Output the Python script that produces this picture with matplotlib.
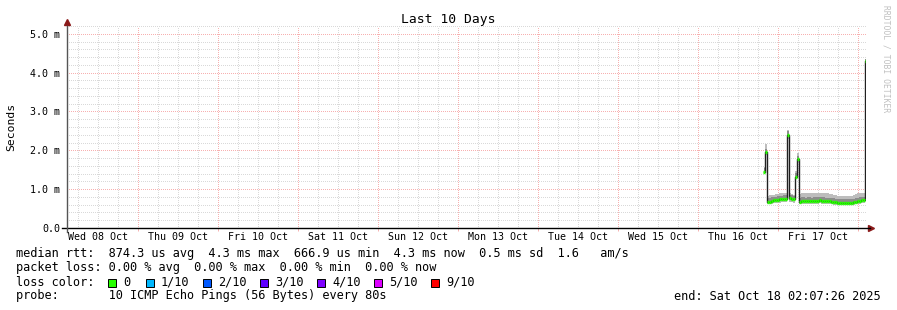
import numpy as np
import matplotlib
matplotlib.use("Agg")
import matplotlib.pyplot as plt
from matplotlib.lines import Line2D
from matplotlib.patches import Rectangle

# time axis: hours since Wed 08 Oct 00:00
x_start, x_end = 2.7, 242.4
day_labels = ["Wed 08 Oct", "Thu 09 Oct", "Fri 10 Oct", "Sat 11 Oct", "Sun 12 Oct",
              "Mon 13 Oct", "Tue 14 Oct", "Wed 15 Oct", "Thu 16 Oct", "Fri 17 Oct"]
y_ticks = [0, 1, 2, 3, 4, 5]
y_labels = ["0.0", "1.0 m", "2.0 m", "3.0 m", "4.0 m", "5.0 m"]

# samples (ms) from Thu 16 Oct ~19:40, every 36 min
t0, step = 211.7, 0.6
median = [1.45, 1.95, 0.68, 0.68, 0.70, 0.71, 0.72, 0.73, 0.74, 0.74, 0.75, 0.75,
          2.40, 0.76, 0.75, 0.74, 1.32, 1.77, 0.68, 0.70, 0.70, 0.69, 0.70, 0.70,
          0.69, 0.70, 0.70, 0.70, 0.71, 0.70, 0.70, 0.69, 0.69, 0.69, 0.68, 0.67,
          0.66, 0.65, 0.65, 0.65, 0.65, 0.65, 0.65, 0.65, 0.65, 0.66, 0.67, 0.69,
          0.70, 0.71, 0.72, 4.29]
smoke_lo = [1.40, 1.88, 0.62, 0.62, 0.63, 0.64, 0.64, 0.65, 0.65, 0.66, 0.66, 0.66,
            2.30, 0.67, 0.66, 0.65, 1.25, 1.70, 0.62, 0.63, 0.63, 0.62, 0.63, 0.63,
            0.62, 0.63, 0.63, 0.63, 0.64, 0.63, 0.63, 0.62, 0.62, 0.62, 0.61, 0.60,
            0.60, 0.59, 0.59, 0.59, 0.59, 0.59, 0.59, 0.59, 0.59, 0.60, 0.61, 0.62,
            0.63, 0.64, 0.65, 4.22]
smoke_hi = [1.58, 2.15, 0.82, 0.84, 0.86, 0.86, 0.87, 0.88, 0.89, 0.89, 0.90, 0.90,
            2.52, 0.90, 0.88, 0.86, 1.46, 1.92, 0.88, 0.90, 0.91, 0.90, 0.91, 0.90,
            0.90, 0.91, 0.91, 0.90, 0.91, 0.90, 0.90, 0.89, 0.89, 0.88, 0.87, 0.85,
            0.84, 0.82, 0.82, 0.82, 0.83, 0.83, 0.83, 0.82, 0.83, 0.85, 0.87, 0.89,
            0.90, 0.91, 0.91, 4.36]

loss_labels = ["0", "1/10", "2/10", "3/10", "4/10", "5/10", "9/10"]
loss_colors = ["#26ff00", "#00b8ff", "#0059ff", "#5e00ff", "#7e00ff", "#dd00ff", "#ff0000"]

stats_line = "median rtt:  874.3 us avg  4.3 ms max  666.9 us min  4.3 ms now  0.5 ms sd  1.6   am/s"
loss_line = "packet loss: 0.00 % avg  0.00 % max  0.00 % min  0.00 % now"
probe_line = "probe:       10 ICMP Echo Pings (56 Bytes) every 80s"
end_line = "end: Sat Oct 18 02:07:26 2025"

mono = "DejaVu Sans Mono"
W, H = 897, 310
fig = plt.figure(figsize=(W / 100, H / 100), dpi=100)
ax = fig.add_axes([67 / W, 1 - 228 / H, (866 - 67) / W, (228 - 26) / H])
ax.set_xlim(x_start, x_end)
ax.set_ylim(0, 5.2)

# grid (dotted, 1px on / 1px off)
minor_col, major_col = "#d9d9d9", "#f7b0b0"
grid_kw = dict(lw=0.72, ls=(0, (1, 1.2)), zorder=0, antialiased=False)
for h in np.arange(6, x_end, 6):
    if h > x_start:
        ax.axvline(h, color=major_col if h % 24 == 0 else minor_col, **grid_kw)
for v in np.arange(0.2, 5.21, 0.2):
    major = abs(v - round(v)) < 1e-6
    ax.axhline(v, color=major_col if major else minor_col, **grid_kw)

t = t0 + step * np.arange(len(median))
med = np.array(median)
lo = np.array(smoke_lo)
hi = np.array(smoke_hi)

# smoke
ax.fill_between(t, lo, hi, step="mid", color="#bdbdbd", lw=0, zorder=2)
ax.fill_between(t, np.maximum(lo, med - 0.03), np.minimum(hi, med + 0.09),
                step="mid", color="#8c8c8c", lw=0, zorder=3)

# median
ax.plot(t, med, drawstyle="steps-mid", color="#202020", lw=1.0, zorder=4)
ax.hlines(med, t - step / 2, t + step / 2, color=loss_colors[0], lw=2.4, zorder=5)

# ticks
ax.set_xticks(np.arange(12, 240, 24))
ax.set_xticklabels(day_labels, fontfamily=mono, fontsize=7.2)
ax.set_xticks(np.arange(24, 241, 24), minor=True)
ax.tick_params(axis="x", which="major", length=0, pad=3)
ax.tick_params(axis="x", which="minor", length=2, color=major_col, width=0.7)
ax.set_yticks(y_ticks)
ax.set_yticklabels(y_labels, fontfamily=mono, fontsize=7.2)
ax.tick_params(axis="y", length=0, pad=5)
for s in ax.spines.values():
    s.set_visible(False)

# axes lines with arrows
ax.add_line(Line2D([-0.006, 1.005], [0, 0], transform=ax.transAxes, color="black",
                   lw=1, clip_on=False, zorder=6))
ax.add_line(Line2D([0, 0], [-0.02, 1.0], transform=ax.transAxes, color="#555555",
                   lw=1, clip_on=False, zorder=6))
ax.plot([1.006], [0], marker=">", ms=4, color="#8b1a1a", transform=ax.transAxes, clip_on=False)
ax.plot([0], [1.02], marker="^", ms=4, color="#8b1a1a", transform=ax.transAxes, clip_on=False)

# texts
fig.text(448 / W, 1 - 19 / H, "Last 10 Days", fontfamily=mono, fontsize=9.4,
         ha="center", va="center")
fig.text(11 / W, 1 - 127 / H, "Seconds", fontfamily=mono, fontsize=8.2,
         rotation=90, ha="center", va="center")
fig.text(886 / W, 1 - 59 / H, "RRDTOOL / TOBI OETIKER", fontfamily=mono, fontsize=5.8,
         rotation=-90, ha="center", va="center", color="#c0c0c0")

fs = 8.55
fig.text(16 / W, 1 - 254 / H, stats_line, fontfamily=mono, fontsize=fs, va="center")
fig.text(16 / W, 1 - 268 / H, loss_line, fontfamily=mono, fontsize=fs, va="center")
fig.text(16 / W, 1 - 282 / H, "loss color:", fontfamily=mono, fontsize=fs, va="center")
fig.text(16 / W, 1 - 296 / H, probe_line, fontfamily=mono, fontsize=fs, va="center")
fig.text(881 / W, 1 - 296 / H, end_line, fontfamily=mono, fontsize=fs, va="center", ha="right")

box_x = [108, 146, 203, 260, 317, 374, 431]
for bx, lab, col in zip(box_x, loss_labels, loss_colors):
    fig.patches.append(Rectangle((bx / W, 1 - 286.5 / H), 8 / W, 8 / H, transform=fig.transFigure,
                                 facecolor=col, edgecolor="black", lw=0.7))
    fig.text((bx + 15) / W, 1 - 282 / H, lab, fontfamily=mono, fontsize=fs, va="center")

fig.savefig("out.png", dpi=100)
